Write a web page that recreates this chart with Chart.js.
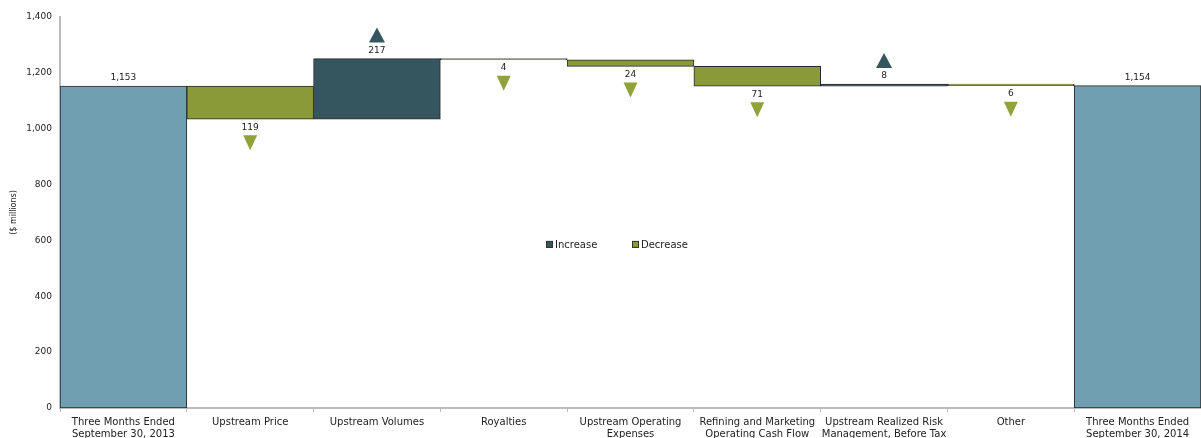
<!DOCTYPE html>
<html>
<head>
<meta charset="utf-8">
<script src="https://cdn.jsdelivr.net/npm/chart.js@4.4.1/dist/chart.umd.min.js"></script>
<style>
html,body{margin:0;padding:0;background:#fff;overflow:hidden;}
#wrap{width:1201px;height:438px;position:relative;overflow:hidden;}
</style>
</head>
<body>
<div id="wrap"><canvas id="c" width="1201" height="438"></canvas></div>
<script>
const categories = [
  ["Three Months Ended", "September 30, 2013"],
  "Upstream Price",
  "Upstream Volumes",
  "Royalties",
  ["Upstream Operating", "Expenses"],
  ["Refining and Marketing", "Operating Cash Flow"],
  ["Upstream Realized Risk", "Management, Before Tax"],
  "Other",
  ["Three Months Ended", "September 30, 2014"]
];
const changes = [1153, -119, 217, -4, -24, -71, 8, -6, 1154];
const isTotal = [true, false, false, false, false, false, false, false, true];
const yTicks = [0, 200, 400, 600, 800, 1000, 1200, 1400];

const COL_TOTAL = '#6f9fb1';
const COL_INC = '#36565f';
const COL_DEC = '#8a9a38';
const COL_INC_TRI = '#36565f';
const COL_DEC_TRI = '#90a23a';

// build floating ranges
const totals = [], incs = [], decs = [];
let running = 0;
changes.forEach((v, i) => {
  if (isTotal[i]) {
    totals.push([0, v]); incs.push(null); decs.push(null);
    running = v;
  } else {
    const a = running, b = running + v;
    totals.push(null);
    if (v >= 0) { incs.push([a, b]); decs.push(null); }
    else { decs.push([b, a]); incs.push(null); }
    running = b;
  }
});

const fmt = n => Math.abs(n).toLocaleString('en-US');

const annot = {
  id: 'annot',
  afterDatasetsDraw(chart) {
    const ctx = chart.ctx;
    const x = chart.scales.x, y = chart.scales.y;
    ctx.save();
    ctx.font = '9px "DejaVu Sans"';
    ctx.textAlign = 'center';
    ctx.textBaseline = 'middle';
    let run = 0;
    changes.forEach((v, i) => {
      const cx = x.getPixelForValue(i);
      if (isTotal[i]) {
        const top = y.getPixelForValue(v);
        ctx.fillStyle = '#222';
        ctx.fillText(fmt(v), cx, top - 8);
        run = v;
      } else {
        const b = run + v;
        run = b;
        if (v >= 0) {
          const top = y.getPixelForValue(b);
          const ly = top - 8;
          ctx.fillStyle = '#222';
          ctx.fillText(fmt(v), cx, ly);
          const ty = ly - 15;
          ctx.fillStyle = COL_INC_TRI;
          ctx.beginPath();
          ctx.moveTo(cx, ty - 8);
          ctx.lineTo(cx + 8, ty + 7);
          ctx.lineTo(cx - 8, ty + 7);
          ctx.closePath();
          ctx.fill();
        } else {
          const bot = y.getPixelForValue(b);
          const ly = bot + 8;
          ctx.fillStyle = '#222';
          ctx.fillText(fmt(v), cx, ly);
          const ty = ly + 15;
          ctx.fillStyle = COL_DEC_TRI;
          ctx.beginPath();
          ctx.moveTo(cx - 7, ty - 7);
          ctx.lineTo(cx + 7, ty - 7);
          ctx.lineTo(cx, ty + 8);
          ctx.closePath();
          ctx.fill();
        }
      }
    });
    // legend
    const ca = chart.chartArea;
    const ly = y.getPixelForValue(600) + 4;
    const items = [['Increase', COL_INC], ['Decrease', COL_DEC]];
    let lx = ca.left + 486;
    ctx.font = '10px "DejaVu Sans"';
    ctx.textAlign = 'left';
    items.forEach(([t, c]) => {
      ctx.fillStyle = c;
      ctx.fillRect(lx, ly - 3.5, 7, 7);
      ctx.strokeStyle = '#333';
      ctx.lineWidth = 1;
      ctx.strokeRect(lx + 0.5, ly - 3, 6, 6);
      ctx.fillStyle = '#222';
      ctx.fillText(t, lx + 9, ly + 0.5);
      lx += 86;
    });
    ctx.restore();
  }
};

new Chart(document.getElementById('c'), {
  type: 'bar',
  data: {
    labels: categories,
    datasets: [
      { label: 'Total', data: totals, backgroundColor: COL_TOTAL, borderColor: '#2b2b2b', borderWidth: 1, borderSkipped: false },
      { label: 'Increase', data: incs, backgroundColor: COL_INC, borderColor: '#2b2b2b', borderWidth: 1, borderSkipped: false },
      { label: 'Decrease', data: decs, backgroundColor: COL_DEC, borderColor: '#2b2b2b', borderWidth: 1, borderSkipped: false }
    ]
  },
  options: {
    responsive: false,
    animation: false,
    layout: { padding: { top: 17, right: 0, left: 9, bottom: 0 } },
    datasets: { bar: { grouped: false, barPercentage: 1, categoryPercentage: 1 } },
    plugins: { legend: { display: false }, tooltip: { enabled: false } },
    scales: {
      x: {
        offset: true,
        grid: { offset: true, drawOnChartArea: false, tickLength: 4, color: '#bbb' },
        border: { color: '#bbb', width: 2 },
        ticks: { font: { family: 'DejaVu Sans', size: 10 }, color: '#222', maxRotation: 0, autoSkip: false, padding: 4 },
        afterFit(s) { s.height = 30; }
      },
      y: {
        min: 0, max: 1400,
        afterBuildTicks(s) { s.ticks = yTicks.map(v => ({ value: v })); },
        grid: { display: false, drawTicks: false },
        border: { color: '#bbb', width: 2 },
        ticks: { font: { family: 'DejaVu Sans', size: 9 }, color: '#222', padding: 8,
          callback: v => v.toLocaleString('en-US') },
        title: { display: true, text: '($ millions)', font: { family: 'DejaVu Sans', size: 8 }, color: '#222', padding: 0 },
        afterFit(s) { s.width = 51; }
      }
    }
  },
  plugins: [annot]
});
</script>
</body>
</html>
